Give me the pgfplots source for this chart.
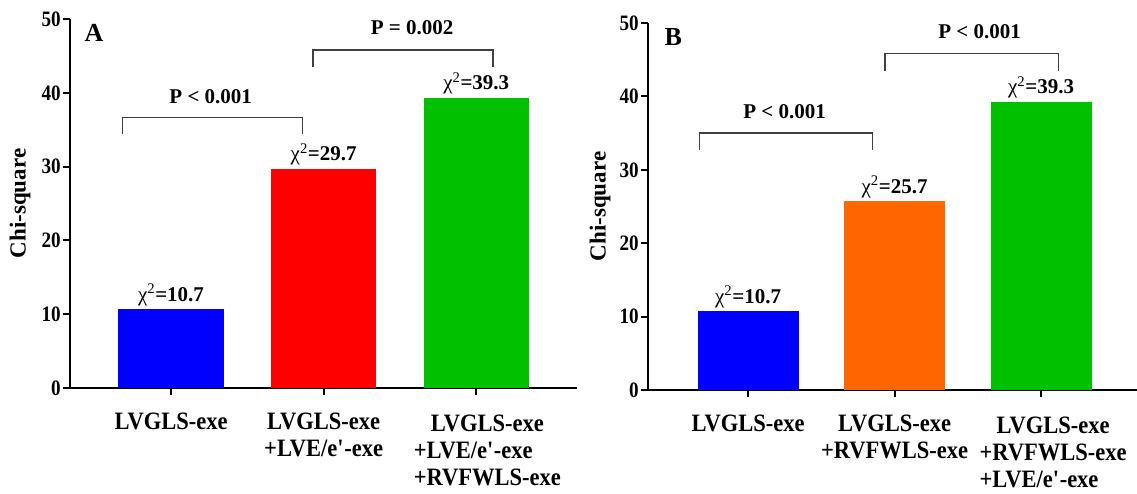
\documentclass[border=0pt]{standalone}
\usepackage{fontspec}
\setmainfont{LiberationSerif}[Extension=.ttf, UprightFont=*-Regular, BoldFont=*-Bold, ItalicFont=*-Italic, BoldItalicFont=*-BoldItalic]
\newfontfamily\cond{LiberationSerif}[Extension=.ttf, UprightFont=*-Regular, BoldFont=*-Bold, FakeStretch=0.87]
\newfontfamily\condx{LiberationSerif}[Extension=.ttf, UprightFont=*-Regular, BoldFont=*-Bold, FakeStretch=0.9]
\usepackage{pgfplots}
\pgfplotsset{compat=1.18}
\definecolor{barblue}{RGB}{0,0,255}
\definecolor{barred}{RGB}{255,0,0}
\definecolor{bargreen}{RGB}{0,192,0}
\definecolor{barorange}{RGB}{255,102,0}
\definecolor{brk}{RGB}{64,64,64}

\pgfplotsset{
  chiaxis/.style={
    scale only axis,
    anchor=south west,
    axis lines*=left,
    axis line style={line width=2.2pt,-},
    ymin=0, ymax=50, ytick={0,10,...,50},
    xtick={0,1,2},
    tick align=outside,
    major tick length=7pt,
    tick style={line width=2pt, black},
    clip=false,
    /pgf/number format/assume math mode=true,
    yticklabel style={font=\cond\fontsize{22}{22}\selectfont\bfseries, inner sep=2pt},
    xticklabel style={font=\condx\fontsize{25}{27}\selectfont\bfseries, align=center, yshift=-14pt},
    ylabel={Chi-square},
    every axis y label/.style={rotate=90, anchor=center, font=\fontsize{23}{23}\selectfont\bfseries},
  },
}
\tikzset{
  chilab/.style={anchor=base, yshift=8pt, font=\fontsize{21}{21}\selectfont\bfseries},
  plab/.style={font=\fontsize{21}{21}\selectfont\bfseries},
  brkline/.style={brk, line width=1.3pt},
}
\newcommand{\chisq}{{\mdseries χ\textsuperscript{2}}}

\begin{document}
\begin{tikzpicture}
\useasboundingbox (0,0) rectangle (1137pt,-493pt);

% Panel A
\begin{axis}[chiaxis, at={(70pt,-388pt)}, width=507pt, height=369pt,
  xmin=-0.662, xmax=2.66,
  every axis y label/.append style={at={(axis description cs:-0.0986,0.5)}},
  xticklabels={LVGLS-exe, {LVGLS-exe\\+LVE/e\textquotesingle-exe},
    {\hspace*{22pt}\begin{tabular}{@{}l@{}}\multicolumn{1}{@{}c@{}}{LVGLS-exe}\\+LVE/e\textquotesingle-exe\\+RVFWLS-exe\end{tabular}}},
]
\addplot[ybar, bar width=0.69, fill=barblue, draw=none] coordinates {(0,10.7)};
\addplot[ybar, bar width=0.69, fill=barred, draw=none] coordinates {(1,29.7)};
\addplot[ybar, bar width=0.69, fill=bargreen, draw=none] coordinates {(2,39.3)};
\node[chilab] at (0,10.7) {\chisq=10.7};
\node[chilab] at (1,29.7) {\chisq=29.7};
\node[chilab] at (2,39.3) {\chisq=39.3};
\draw[brkline] (-0.32,34.4) -- (-0.32,36.7) -- (0.86,36.7) -- (0.86,34.4);
\node[plab] at (0.26,39.5) {P < 0.001};
\draw[brkline] (0.93,43.5) -- (0.93,45.8) -- (2.11,45.8) -- (2.11,43.5);
\node[plab] at (1.58,48.8) {P = 0.002};
\node[font=\fontsize{26}{26}\selectfont\bfseries] at (-0.505,48.1) {A};
\end{axis}

% Panel B
\begin{axis}[chiaxis, at={(648pt,-390pt)}, width=489pt, height=367pt,
  xmin=-0.683, xmax=2.655,
  every axis y label/.append style={at={(axis description cs:-0.098,0.5)}},
  xticklabels={LVGLS-exe, {LVGLS-exe\\+RVFWLS-exe},
    {\hspace*{24pt}\begin{tabular}{@{}l@{}}\multicolumn{1}{@{}c@{}}{LVGLS-exe}\\+RVFWLS-exe\\+LVE/e\textquotesingle-exe\end{tabular}}},
]
\addplot[ybar, bar width=0.69, fill=barblue, draw=none] coordinates {(0,10.7)};
\addplot[ybar, bar width=0.69, fill=barorange, draw=none] coordinates {(1,25.7)};
\addplot[ybar, bar width=0.69, fill=bargreen, draw=none] coordinates {(2,39.3)};
\node[chilab] at (0,10.7) {\chisq=10.7};
\node[chilab] at (1,25.7) {\chisq=25.7};
\node[chilab] at (2,39.3) {\chisq=39.3};
\draw[brkline] (-0.33,32.7) -- (-0.33,35.0) -- (0.85,35.0) -- (0.85,32.7);
\node[plab] at (0.25,37.9) {P < 0.001};
\draw[brkline] (0.935,43.5) -- (0.935,45.8) -- (2.12,45.8) -- (2.12,43.5);
\node[plab] at (1.58,48.8) {P < 0.001};
\node[font=\fontsize{26}{26}\selectfont\bfseries] at (-0.51,48.1) {B};
\end{axis}
\end{tikzpicture}
\end{document}
